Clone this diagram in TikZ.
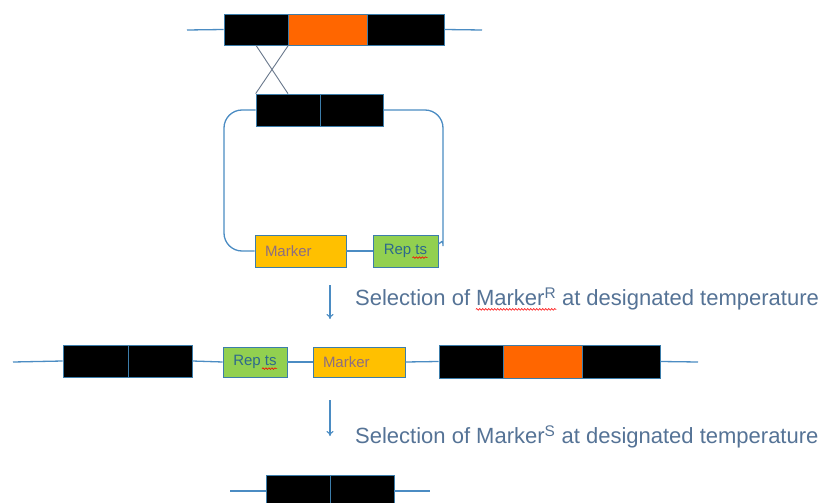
\documentclass[tikz,border=0pt]{standalone}
\usepackage{fontspec}
\setmainfont{Liberation Sans}
\usetikzlibrary{arrows.meta,decorations.pathmorphing}
\definecolor{linec}{RGB}{75,140,195}
\definecolor{edgec}{RGB}{60,125,170}
\definecolor{textc}{RGB}{85,115,150}
\definecolor{orangec}{RGB}{255,102,0}
\definecolor{markerc}{RGB}{255,192,0}
\definecolor{repc}{RGB}{146,208,80}
\definecolor{markertxt}{RGB}{140,110,130}
\definecolor{reptxt}{RGB}{45,105,140}
\definecolor{crossc}{RGB}{105,120,140}
\begin{document}
\begin{tikzpicture}[x=1pt,y=-1pt,
  blk/.style={draw=edgec,line width=0.7pt,fill=black,inner sep=0pt,minimum height=#1},
  blk/.default=31pt,
  orng/.style={draw=edgec,line width=0.7pt,fill=orangec,inner sep=0pt,minimum height=#1},
  orng/.default=31pt,
  markerbox/.style={draw=edgec,line width=0.8pt,fill=markerc,inner sep=0pt,minimum height=#1,
     font=\fontsize{15}{16}\selectfont,text=markertxt},
  markerbox/.default=32pt,
  repbox/.style={draw=edgec,line width=0.8pt,fill=repc,inner sep=0pt,minimum height=#1,
     font=\fontsize{15}{16}\selectfont,text=reptxt},
  repbox/.default=32pt,
  dna/.style={draw=linec,line width=1.3pt},
  cross/.style={draw=crossc,line width=0.9pt},
  selarrow/.style={draw=linec,line width=1.1pt,-{To[length=5pt,width=7pt]}},
  seltext/.style={inner sep=0pt,text=textc,font=\fontsize{22}{25}\selectfont},
  spell/.style={draw=red,line width=0.6pt,decorate,decoration={snake,amplitude=0.8pt,segment length=3pt}},
]
\useasboundingbox (0,0) rectangle (823,503);
\fill[white] (0,0) rectangle (823,503);

% ---- top chromosome
\coordinate (tl) at (187,30);
\coordinate (tr) at (482,30);
\node[blk,minimum width=64pt] (b1) at (256,29.5) {};
\node[orng,minimum width=79pt] (o1) at (327.5,29.5) {};
\node[blk,minimum width=77pt] (b2) at (405.5,29.5) {};
\draw[dna] (tl) -- (b1.west);
\draw[dna] (b2.east) -- (tr);

% ---- plasmid
\node[blk=32pt,minimum width=64pt] (p1) at (288,110) {};
\node[blk=32pt,minimum width=63pt] (p2) at (351.5,110) {};
\node[markerbox,minimum width=91pt,text width=71pt,align=left] (m1) at (300.5,251) {Marker};
\node[repbox,minimum width=65pt] (r1) at (405.5,251) {Rep ts};
\draw[spell] ([xshift=7pt,yshift=-3pt]r1.base) -- ([xshift=22pt,yshift=-3pt]r1.base);
\coordinate (pl1) at (224,110);
\coordinate (pl2) at (224,251);
\coordinate (pr1) at (443,110);
\coordinate (pr2) at (443,228);
\coordinate (rj) at ([yshift=7pt]r1.east);
\draw[dna,rounded corners=18pt] (p1.west) -- (pl1) -- (pl2) -- (m1.west);
\draw[dna,rounded corners=18pt] (p2.east) -- (pr1) -- (pr2) .. controls (443,238) and (441,243) .. (rj);
\draw[dna] (m1.east) -- (r1.west);

% ---- crossover
\draw[cross] (b1.south) -- (p1.north);
\draw[cross] (b1.south east) -- (p1.north west);

% ---- first selection
\coordinate (a1s) at (330,285);
\coordinate (a1e) at (330,319);
\draw[selarrow] (a1s) -- (a1e);
\node[seltext,anchor=west] (t1a) at (355,298) {Selection of};
\node[seltext,anchor=base west] (t1b) at ([xshift=5.5pt]t1a.base east) {Marker\textsuperscript{R}};
\node[seltext,anchor=base west] (t1c) at ([xshift=5.5pt]t1b.base east) {at designated temperature};
\draw[spell] ([yshift=-3.5pt]t1b.base west) -- ([yshift=-3.5pt]t1b.base east);

% ---- integrated
\coordinate (ml) at (13,362);
\coordinate (mr) at (698,362);
\node[blk=32pt,minimum width=65pt] (c1) at (95.5,361) {};
\node[blk=32pt,minimum width=64pt] (c2) at (160,361) {};
\node[repbox=30pt,minimum width=64pt] (r2) at (255,362) {Rep ts};
\draw[spell] ([xshift=7pt,yshift=-3pt]r2.base) -- ([xshift=22pt,yshift=-3pt]r2.base);
\node[markerbox=30pt,minimum width=92pt,text width=72pt,align=left] (m2) at (359,362) {Marker};
\node[blk=33pt,minimum width=64pt] (d1) at (471,361.5) {};
\node[orng=33pt,minimum width=79pt] (d2) at (542.5,361.5) {};
\node[blk=33pt,minimum width=78pt] (d3) at (621,361.5) {};
\draw[dna] (ml) -- (c1.west);
\draw[dna] (c2.east) -- (r2.west);
\draw[dna] (r2.east) -- (m2.west);
\draw[dna] (m2.east) -- (d1.west);
\draw[dna] (d3.east) -- (mr);

% ---- second selection
\coordinate (a2s) at (330,400);
\coordinate (a2e) at (330,436);
\draw[selarrow] (a2s) -- (a2e);
\node[seltext,anchor=west] (t2) at (355,437) {Selection of Marker\textsuperscript{S} at designated temperature};

% ---- final
\coordinate (bl) at (230,491);
\coordinate (br) at (430,491);
\node[blk=32pt,minimum width=64pt] (e1) at (298,491) {};
\node[blk=32pt,minimum width=64pt] (e2) at (362,491) {};
\draw[dna] (bl) -- (e1.west);
\draw[dna] (e2.east) -- (br);
\end{tikzpicture}
\end{document}
